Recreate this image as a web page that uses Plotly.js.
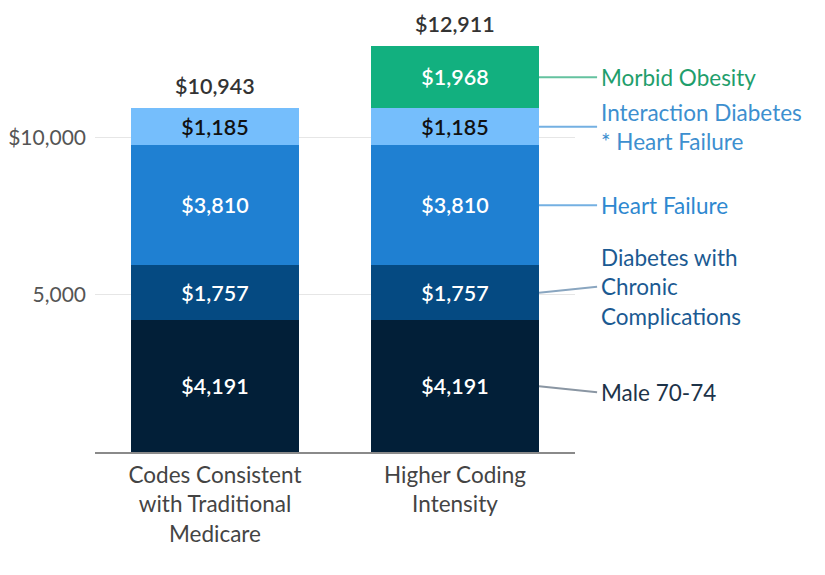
<!DOCTYPE html>
<html>
<head>
<meta charset="utf-8">
<script src="https://cdn.plot.ly/plotly-3.0.1.min.js"></script>
<style>html,body{margin:0;padding:0;background:#fff;}#chart{width:825px;height:575px;}</style>
</head>
<body>
<div id="chart"></div>
<script>
const categories = ["Codes Consistent<br>with Traditional<br>Medicare", "Higher Coding<br>Intensity"];
const seriesNames = ["Male 70-74", "Diabetes with<br>Chronic<br>Complications", "Heart Failure", "Interaction Diabetes<br>* Heart Failure", "Morbid Obesity"];
const male7074 = [4191, 4191];
const diabetesChronic = [1757, 1757];
const heartFailure = [3810, 3810];
const interactionDiabHF = [1185, 1185];
const morbidObesity = [null, 1968];
const totals = [10943, 12911];
const yTickVals = [5000, 10000];
const yTickText = ["5,000", "$10,000"];

const FONT = "Lato, 'Source Sans Pro', 'Noto Sans', sans-serif";
const barColors = ["#021f38", "#054a82", "#1f80d2", "#75befc", "#12b07f"];
const barTextColors = ["#ffffff", "#ffffff", "#ffffff", "#111111", "#ffffff"];
const labelColors = ["#1d3349", "#1b5a92", "#2e88d0", "#3d8fcf", "#1f9e6c"];
const lineColors = ["#8a96a3", "#8aa6c0", "#74b0e2", "#74b0e2", "#64c29f"];
const labelYShift = [-6, 6, 0, 0, 0];

const seriesData = [male7074, diabetesChronic, heartFailure, interactionDiabHF, morbidObesity];
const fmt = v => "$" + v.toLocaleString("en-US");

const traces = seriesData.map((vals, i) => ({
  type: "bar",
  x: [0, 1],
  y: vals,
  name: seriesNames[i],
  marker: {color: barColors[i], line: {width: 0}},
  text: vals.map(v => v == null ? "" : fmt(v)),
  textposition: "inside",
  insidetextanchor: "middle",
  textangle: 0,
  constraintext: "none",
  textfont: {family: FONT, size: 21.5, color: barTextColors[i], weight: 600},
  hoverinfo: "skip"
}));

const annotations = [];
const shapes = [];
// totals
totals.forEach((t, i) => {
  annotations.push({
    x: i, y: t, xref: "x", yref: "y", text: fmt(t), showarrow: false,
    yanchor: "bottom", yshift: 7,
    font: {family: FONT, size: 21.5, color: "#333333", weight: 600}
  });
});
// series labels for second bar
let cum = 0;
seriesData.forEach((vals, i) => {
  const v = vals[1];
  const mid = cum + v / 2;
  cum += v;
  annotations.push({
    x: 1.051, y: mid, xref: "paper", yref: "y", text: seriesNames[i], showarrow: false,
    xanchor: "left", yanchor: "middle", align: "left", yshift: labelYShift[i],
    font: {family: FONT, size: 22.5, color: labelColors[i]}
  });
  shapes.push({
    type: "line", xref: "paper", yref: "y",
    x0: 0.925, x1: 1.046, y0: mid, y1: mid + labelYShift[i] * 14000 / 440,
    line: {color: lineColors[i], width: 2}
  });
});

const layout = {
  width: 825, height: 575,
  margin: {l: 95, r: 250, t: 12, b: 123},
  paper_bgcolor: "#ffffff", plot_bgcolor: "#ffffff",
  barmode: "stack",
  bargap: 0.296,
  showlegend: false,
  font: {family: FONT},
  xaxis: {
    range: [-0.5, 1.5], tickvals: [0, 1], ticktext: categories,
    showgrid: false, zeroline: false, showline: true, linecolor: "#8a8a8a", linewidth: 2,
    ticks: "", ticklabelstandoff: 2, tickfont: {family: FONT, size: 22.5, color: "#444444"}, fixedrange: true
  },
  yaxis: {
    range: [0, 14000], tickvals: yTickVals, ticktext: yTickText,
    showgrid: true, gridcolor: "#e6e6e6", gridwidth: 1, zeroline: false, showline: false,
    ticks: "", ticklabelstandoff: 8,
    tickfont: {family: FONT, size: 21, color: "#555555"}, fixedrange: true
  },
  annotations: annotations,
  shapes: shapes
};

Plotly.newPlot("chart", traces, layout, {displayModeBar: false, staticPlot: true});
</script>
</body>
</html>
